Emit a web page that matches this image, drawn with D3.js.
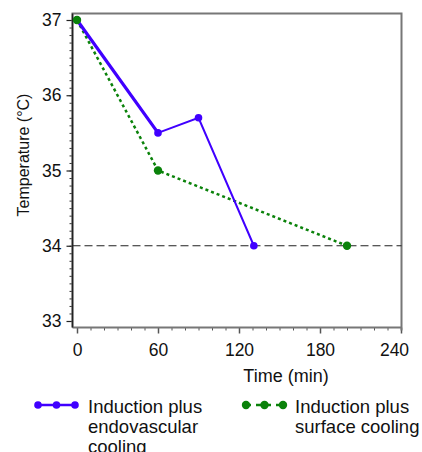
<!DOCTYPE html>
<html>
<head>
<meta charset="UTF-8">
<script src="https://d3js.org/d3.v7.min.js"></script>
<style>
  body { margin: 0; background: #fff; }
  svg { display: block; }
  svg text { font-family: "Liberation Sans", Arial, sans-serif; fill: #111; }
</style>
</head>
<body>
<svg width="422" height="452"></svg>
<script>
// data
const endoTime = [0, 60, 90, 131];
const endoTemp = [37, 35.5, 35.7, 34];
const surfTime = [0, 60, 200];
const surfTemp = [37, 35, 34];
const targetTemp = 34;
const xTicks = [0, 60, 120, 180, 240];
const yTicks = [33, 34, 35, 36, 37];
const seriesNames = [["Induction plus", "endovascular", "cooling"], ["Induction plus", "surface cooling"]];

const blue = "#4000ff", green = "#0a820a";
const svg = d3.select("svg");

const x = d3.scaleLinear().domain([0, 240]).range([77, 401]);
const y = d3.scaleLinear().domain([33, 37]).range([321, 20]);
const frameL = 72.5, frameR = 401.5, frameT = 13.5, frameB = 327.5;

// minor ticks
svg.append("g").attr("transform", `translate(0,${frameB})`)
  .call(d3.axisBottom(x).tickValues(d3.range(0, 241, 10)).tickSize(3).tickFormat(""))
  .call(g => g.select(".domain").remove())
  .call(g => g.selectAll("line").attr("stroke", "#555"));
svg.append("g").attr("transform", `translate(${frameL},0)`)
  .call(d3.axisLeft(y).tickValues(d3.range(330, 371, 1).map(v => v / 10)).tickSize(3).tickFormat(""))
  .call(g => g.select(".domain").remove())
  .call(g => g.selectAll("line").attr("stroke", "#333"));

// major ticks + labels
svg.append("g").attr("transform", `translate(0,${frameB})`)
  .call(d3.axisBottom(x).tickValues(xTicks).tickSize(6).tickPadding(10).tickFormat(d3.format("d")))
  .call(g => g.select(".domain").remove())
  .call(g => g.selectAll("line").attr("stroke", "#555").attr("stroke-width", 1.5))
  .call(g => g.selectAll("text").attr("font-size", 17.5).attr("dx", d => d === 240 ? -7 : 0));
svg.append("g").attr("transform", `translate(${frameL},0)`)
  .call(d3.axisLeft(y).tickValues(yTicks).tickSize(6).tickPadding(5).tickFormat(d3.format("d")))
  .call(g => g.select(".domain").remove())
  .call(g => g.selectAll("line").attr("stroke", "#222").attr("stroke-width", 1.2))
  .call(g => g.selectAll("text").attr("font-size", 17.5));

// frame
svg.append("path")
  .attr("d", `M${frameL},${frameB}V${frameT}H${frameR}V${frameB + 3}M${frameL},${frameB}H${frameR}`)
  .attr("fill", "none").attr("stroke", "#777").attr("stroke-width", 2);
svg.append("line").attr("x1", frameL).attr("x2", frameL).attr("y1", frameT).attr("y2", frameB)
  .attr("stroke", "#222").attr("stroke-width", 1.5);

// target line
svg.append("line")
  .attr("x1", frameL).attr("x2", frameR)
  .attr("y1", y(targetTemp)).attr("y2", y(targetTemp))
  .attr("stroke", "#222").attr("stroke-width", 1.2).attr("stroke-dasharray", "8,4");

const line = d3.line().x(d => x(d[0])).y(d => y(d[1]));
const endo = d3.zip(endoTime, endoTemp);
const surf = d3.zip(surfTime, surfTemp);

svg.append("path").datum(surf).attr("d", line)
  .attr("fill", "none").attr("stroke", green).attr("stroke-width", 2.5).attr("stroke-dasharray", "3,3");
svg.append("path").datum(endo).attr("d", line)
  .attr("fill", "none").attr("stroke", blue).attr("stroke-width", 2);
svg.append("path").datum(endo.slice(0, 2)).attr("d", line)
  .attr("fill", "none").attr("stroke", blue).attr("stroke-width", 3.2);

svg.selectAll(".pe").data(endo).enter().append("circle")
  .attr("cx", d => x(d[0])).attr("cy", d => y(d[1])).attr("r", 3.8).attr("fill", blue);
svg.selectAll(".ps").data(surf).enter().append("circle")
  .attr("cx", d => x(d[0])).attr("cy", d => y(d[1])).attr("r", 4.2).attr("fill", green);

// axis titles
svg.append("text").attr("x", 286).attr("y", 382).attr("text-anchor", "middle")
  .attr("font-size", 18).text("Time (min)");
svg.append("text").attr("transform", "translate(29,155) rotate(-90)").attr("text-anchor", "middle")
  .attr("font-size", 16).text("Temperature (°C)");

// legend
const legend = [
  { color: blue, dash: null, width: 2.5, lx: 36, tx: 88, r: 3.8 },
  { color: green, dash: "5,5", width: 2.5, lx: 244, tx: 295, r: 4.2 }
];
legend.forEach((l, i) => {
  const g = svg.append("g");
  g.append("line").attr("x1", l.lx + 2).attr("x2", l.lx + 39).attr("y1", 405).attr("y2", 405)
    .attr("stroke", l.color).attr("stroke-width", l.width).attr("stroke-dasharray", l.dash);
  [0, 1, 2].forEach(k => g.append("circle").attr("cx", l.lx + 2 + k * 18.5).attr("cy", 405).attr("r", l.r).attr("fill", l.color));
  seriesNames[i].forEach((t, j) => g.append("text").attr("x", l.tx).attr("y", 413 + j * 20)
    .attr("font-size", 18.5).text(t));
});
</script>
</body>
</html>
